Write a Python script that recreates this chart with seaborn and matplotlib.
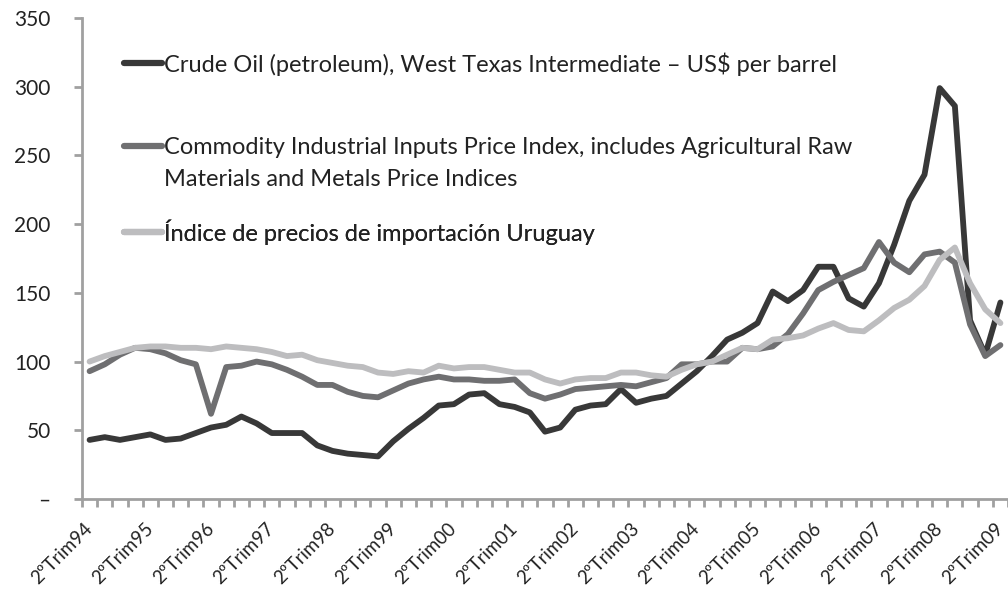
import numpy as np
import pandas as pd
import matplotlib
matplotlib.use("Agg")
import matplotlib.pyplot as plt
import matplotlib.transforms as mtransforms
import seaborn as sns

# quarterly series, 2ºTrim94 .. 2ºTrim09
crude_oil = [43, 45, 43, 45, 47, 43, 44, 48, 52, 54,
             60, 55, 48, 48, 48, 39, 35, 33, 32, 31,
             42, 51, 59, 68, 69, 76, 77, 69, 67, 63,
             49, 52, 65, 68, 69, 80, 70, 73, 75, 84,
             93, 104, 116, 121, 128, 151, 144, 152, 169, 169,
             146, 140, 157, 185, 217, 236, 299, 286, 130, 105,
             143]
commodity = [93, 98, 105, 110, 109, 106, 101, 98, 62, 96,
             97, 100, 98, 94, 89, 83, 83, 78, 75, 74,
             79, 84, 87, 89, 87, 87, 86, 86, 87, 77,
             73, 76, 80, 81, 82, 83, 82, 85, 88, 98,
             98, 100, 100, 110, 109, 111, 120, 135, 152, 158,
             163, 168, 187, 172, 165, 178, 180, 172, 127, 104,
             112]
uruguay = [100, 104, 107, 110, 111, 111, 110, 110, 109, 111,
           110, 109, 107, 104, 105, 101, 99, 97, 96, 92,
           91, 93, 92, 97, 95, 96, 96, 94, 92, 92,
           87, 84, 87, 88, 88, 92, 92, 90, 89, 94,
           98, 100, 105, 110, 109, 116, 117, 119, 124, 128,
           123, 122, 130, 139, 145, 155, 174, 183, 157, 138,
           128]
year_labels = ["2ºTrim94", "2ºTrim95", "2ºTrim96", "2ºTrim97", "2ºTrim98",
               "2ºTrim99", "2ºTrim00", "2ºTrim01", "2ºTrim02", "2ºTrim03",
               "2ºTrim04", "2ºTrim05", "2ºTrim06", "2ºTrim07", "2ºTrim08",
               "2ºTrim09"]
series_names = ["Crude Oil (petroleum), West Texas Intermediate \u2013 US$ per barrel",
                "Commodity Industrial Inputs Price Index, includes Agricultural Raw\nMaterials and Metals Price Indices",
                "Índice de precios de importación Uruguay"]
colors = ["#383838", "#6f6f71", "#bdbdbf"]

sns.set_style("white")
plt.rcParams["font.family"] = ["Lato", "DejaVu Sans"]

df = pd.DataFrame({series_names[0]: crude_oil,
                   series_names[1]: commodity,
                   series_names[2]: uruguay})
df["q"] = np.arange(len(df))
long = df.melt(id_vars="q", var_name="serie", value_name="valor")

fig = plt.figure(figsize=(10.08, 5.90), dpi=100)
ax = fig.add_axes([82 / 1008, 91 / 590, 926 / 1008, 481 / 590])

sns.lineplot(data=long, x="q", y="valor", hue="serie", palette=colors,
             linewidth=4.2, ax=ax, legend=True)

ax.set_xlim(-0.5, 60.2)
ax.set_ylim(0, 350)
ax.set_xlabel("")
ax.set_ylabel("")

ax.set_xticks(np.arange(0, len(df), 4))
ax.set_xticklabels(year_labels, rotation=45, ha="right", va="center",
                   rotation_mode="anchor", fontsize=13.5, color="#222222")
shift = mtransforms.ScaledTranslation(7 / 100, 0, fig.dpi_scale_trans)
for lbl in ax.get_xticklabels():
    lbl.set_transform(lbl.get_transform() + shift)
ax.set_xticks(np.arange(-0.5, len(df), 1), minor=True)
ax.tick_params(axis="x", which="major", length=0, pad=19)
ax.tick_params(axis="x", which="minor", length=6, width=2, color="#a0a0a0",
               direction="out", bottom=True)

ax.set_yticks(np.arange(0, 351, 50))
ax.set_yticklabels(["\u2013"] + [str(v) for v in range(50, 351, 50)],
                   fontsize=15, color="#222222")
ax.tick_params(axis="y", length=6, width=2, color="#a0a0a0", pad=16.5, left=True)

for side in ["top", "right"]:
    ax.spines[side].set_visible(False)
for side in ["left", "bottom"]:
    ax.spines[side].set_color("#a0a0a0")
    ax.spines[side].set_linewidth(2)

# legend: one box per entry so the uneven spacing of the original can be kept
handles, labels = ax.get_legend_handles_labels()
ax.get_legend().remove()
entry_y = [(499 - 64) / 481, (499 - 163.5) / 481, (499 - 232) / 481]
legends = []
for k in range(3):
    leg = ax.legend([handles[k]], [labels[k]], loc="center left",
                    bbox_to_anchor=(0.028, entry_y[k]), frameon=False,
                    fontsize=17, handlelength=1.6, handletextpad=0.08,
                    labelcolor="#222222", borderpad=0.2)
    for line in leg.get_lines():
        line.set_linewidth(4.5)
    for t in leg.get_texts():
        t.set_linespacing(1.6)
    legends.append(leg)
    ax.add_artist(leg)

# handle of the two-line entry sits on its first line
ln = legends[1].get_lines()[0]
ln.set_ydata(np.asarray(ln.get_ydata()) + 12.5)

plt.savefig("out.png", dpi=100)
